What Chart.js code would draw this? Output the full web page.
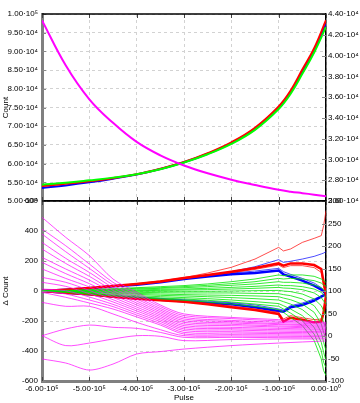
<!DOCTYPE html>
<html><head><meta charset="utf-8">
<script src="https://cdn.jsdelivr.net/npm/chart.js@4.4.0/dist/chart.umd.min.js"></script>
<style>
html,body{margin:0;padding:0;background:#fff;width:360px;height:403px;overflow:hidden}
#cTop{position:absolute;left:0;top:0}
#cBot{position:absolute;left:0;top:190px}
</style></head><body>
<canvas id="cTop" width="360" height="215"></canvas>
<canvas id="cBot" width="360" height="213"></canvas>
<script>
// ---------- tick values & labels ----------
const xTickVals = [-600000,-500000,-400000,-300000,-200000,-100000,0];
const xTickLabels = ['-6.00·10⁵','-5.00·10⁵','-4.00·10⁵','-3.00·10⁵','-2.00·10⁵','-1.00·10⁵','0.00·10⁰'];
const topLeftVals = [50000,55000,60000,65000,70000,75000,80000,85000,90000,95000,100000];
const topLeftLabels = ['5.00·10⁴','5.50·10⁴','6.00·10⁴','6.50·10⁴','7.00·10⁴','7.50·10⁴','8.00·10⁴','8.50·10⁴','9.00·10⁴','9.50·10⁴','1.00·10⁵'];
const topRightVals = [26000,28000,30000,32000,34000,36000,38000,40000,42000,44000];
const topRightLabels = ['2.60·10⁴','2.80·10⁴','3.00·10⁴','3.20·10⁴','3.40·10⁴','3.60·10⁴','3.80·10⁴','4.00·10⁴','4.20·10⁴','4.40·10⁴'];
const botLeftVals = [-600,-400,-200,0,200,400,600];
const botLeftLabels = ['-600','-400','-200','0','200','400','600'];
const botRightVals = [-100,-50,0,50,100,150,200,250,300];
const botRightLabels = ['-100','-50','0','50','100','150','200','250','300'];

// ---------- top panel data ----------
const xsTop = [-600000,-550000,-500000,-450000,-400000,-350000,-300000,-250000,-200000,-150000,-100000,-75000,-50000,-25000,0];
const topMagenta = [98300,86300,77200,70900,65800,62200,59500,57400,55700,54300,53000,52500,52100,51700,51250];
const topGreen = [27570,27750,27990,28250,28580,29050,29700,30500,31500,32850,34850,36300,38250,40300,42750];
const topRed   = [27440,27650,27900,28200,28570,29100,29750,30600,31650,33050,35100,36600,38650,40700,43400];
const topBlue  = [27250,27500,27800,28150,28550,29080,29730,30550,31580,32950,34980,36450,38450,40500,43050];

// ---------- bottom panel data ----------
const xsBot = [-600000,-550000,-500000,-450000,-400000,-350000,-300000,-250000,-200000,-150000,-100000,-90000,-75000,-50000,-25000,-10000,-5000,0];
const blueThickUp  = [0,9,18,31,42,58,80,96,111,120,136,111,96,69,36,9,-4,-20];
const blueThickLow = [0,-11,-22,-36,-49,-58,-69,-80,-89,-109,-133,-138,-109,-93,-64,-38,-29,-20];
const blueThinTop  = [0,9,18,31,44,60,80,102,129,162,209,191,198,213,231,247,253,262];
const blueThinUp   = [0,9,20,33,47,62,84,102,120,133,151,129,111,84,53,22,0,-20];
const blueThinLow  = [0,-9,-18,-29,-40,-49,-58,-67,-78,-93,-120,-127,-98,-80,-53,-33,-27,-20];
const redThickUp   = [0,9,20,33,47,64,87,107,129,153,184,169,184,184,173,147,58,-31];
const redThickLow  = [0,-11,-22,-38,-51,-62,-71,-89,-109,-127,-153,-204,-178,-191,-209,-204,-142,-31];
const redThinTop   = [0,9,20,33,49,67,89,120,158,213,291,267,280,324,351,369,436,536];
const redThinUp    = [0,7,18,31,44,60,82,102,122,144,173,156,169,169,156,124,40,-31];
const redThinLow   = [0,-9,-20,-33,-47,-58,-67,-82,-100,-120,-142,-187,-164,-178,-191,-187,-131,-31];

const green1  = [0,4,9,16,22,29,36,47,62,80,107,102,107,107,98,80,69,58];
const green2  = [0,2,7,11,18,22,29,38,49,62,84,80,84,80,69,53,40,31];
const green3  = [0,2,4,9,13,18,22,29,38,47,62,58,58,53,40,22,9,-4];
const green4  = [0,0,2,4,7,11,13,18,24,31,40,36,36,29,13,-9,-27,-44];
const green5  = [0,0,0,2,2,4,7,9,13,18,24,20,18,9,-13,-44,-67,-87];
const green6  = [0,0,-2,-2,-2,-2,-2,-2,0,2,4,0,-4,-20,-53,-98,-131,-164];
const green7  = [0,-2,-4,-7,-9,-11,-13,-13,-13,-16,-18,-24,-31,-53,-98,-164,-209,-253];
const green8  = [0,-2,-7,-11,-16,-20,-24,-27,-29,-33,-38,-47,-58,-87,-142,-220,-276,-320];
const green9  = [0,-4,-9,-16,-22,-29,-33,-38,-44,-51,-60,-71,-87,-124,-187,-276,-342,-398];
const green10 = [0,-4,-13,-22,-31,-38,-44,-51,-60,-71,-84,-98,-120,-164,-242,-342,-409,-464];
const green11 = [0,-7,-18,-29,-38,-47,-53,-62,-73,-87,-102,-120,-147,-198,-287,-398,-476,-509];
const green12 = [0,-9,-22,-33,-44,-53,-62,-73,-87,-102,-124,-142,-176,-231,-331,-453,-531,-564];

const xsMag = [-600000,-550000,-500000,-450000,-400000,-350000,-300000,-200000,-100000,0];
const mag1  = [491,358,236,80,-9,-93,-153,-176,-191,-209];
const mag2  = [413,302,180,58,-24,-104,-164,-184,-200,-216];
const mag3  = [380,262,151,40,-40,-116,-176,-196,-209,-222];
const mag4  = [324,218,124,22,-53,-127,-187,-204,-218,-229];
const mag5  = [280,184,98,4,-67,-138,-198,-213,-224,-236];
const mag6  = [224,147,73,-11,-80,-149,-209,-222,-233,-242];
const mag7  = [191,116,49,-27,-93,-160,-220,-231,-240,-249];
const mag8  = [147,84,27,-42,-107,-171,-231,-242,-249,-256];
const mag9  = [91,58,4,-58,-120,-182,-242,-251,-258,-262];
const mag10 = [58,31,-18,-73,-133,-193,-253,-260,-267,-271];
const mag11 = [13,2,-40,-89,-147,-204,-264,-271,-276,-278];
const mag12 = [0,-20,-60,-104,-160,-216,-276,-280,-284,-287];
const mag13 = [-9,-42,-80,-120,-173,-227,-287,-291,-293,-296];
const mag14 = [-76,-102,-102,-153,-209,-258,-298,-300,-302,-304];
const mag15 = [-298,-253,-227,-242,-249,-276,-309,-309,-311,-313];
const mag16 = [-298,-364,-347,-320,-298,-302,-331,-324,-320,-320];
const mag17 = [-453,-480,-527,-487,-420,-404,-387,-364,-347,-333];

// ---------- helpers ----------
Chart.defaults.font.family = "'Liberation Sans', Arial, sans-serif";
Chart.defaults.font.size = 8;
Chart.defaults.color = '#000';

function ds(xs, ys, color, width, axis, tension) {
  return {
    data: xs.map((x, i) => ({x: x, y: ys[i]})),
    borderColor: color, backgroundColor: color, borderWidth: width,
    pointRadius: 0, fill: false, yAxisID: axis,
    tension: tension || 0
  };
}
function setTicks(vals) { return s => { s.ticks = vals.map(v => ({value: v})); }; }
const GRID = {color: '#d2d2d2', lineWidth: 1, drawTicks: false};

const frame = {
  id: 'frame',
  afterDraw(chart, args, opts) {
    const {ctx, chartArea: a, scales} = chart;
    ctx.save();
    ctx.strokeStyle = '#444'; ctx.lineWidth = 1;
    const L = 4;
    const xs = scales.x;
    xs.ticks.forEach(t => {
      const px = Math.round(xs.getPixelForValue(t.value)) + 0.5;
      ctx.beginPath();
      ctx.moveTo(px, a.top); ctx.lineTo(px, a.top + L);
      ctx.moveTo(px, a.bottom); ctx.lineTo(px, a.bottom - L);
      ctx.stroke();
    });
    ctx.strokeStyle = '#888';
    Object.values(scales).forEach(s => {
      if (s.axis !== 'y') return;
      s.ticks.forEach(t => {
        const py = Math.round(s.getPixelForValue(t.value)) + 0.5;
        ctx.beginPath();
        if (s.position === 'left') { ctx.moveTo(a.left, py); ctx.lineTo(a.left + L, py); }
        else { ctx.moveTo(a.right, py); ctx.lineTo(a.right - L, py); }
        ctx.stroke();
      });
    });
    if (opts.topLine) {
      ctx.strokeStyle = '#000'; ctx.lineWidth = 1.5;
      ctx.beginPath(); ctx.moveTo(a.left, a.top); ctx.lineTo(a.right, a.top); ctx.stroke();
    }
    ctx.restore();
  }
};

// ---------- top chart ----------
new Chart(document.getElementById('cTop'), {
  type: 'line',
  data: {datasets: [
    ds(xsTop, topMagenta, '#ff00ff', 2, 'yL', 0.4),
    ds(xsTop, topGreen, '#00ff00', 2, 'yR', 0.4),
    ds(xsTop, topRed, '#ff0000', 2, 'yR', 0.4),
    ds(xsTop, topBlue, '#0000ff', 2, 'yR', 0.4)
  ]},
  options: {
    responsive: false, animation: false, events: [],
    layout: {padding: {top: 14, bottom: 14, left: 0, right: 0}},
    plugins: {legend: {display: false}, tooltip: {enabled: false}, frame: {topLine: true}},
    scales: {
      x: {type: 'linear', min: -600000, max: 0, afterBuildTicks: setTicks(xTickVals),
          ticks: {display: false}, grid: GRID,
          border: {display: true, color: '#000', width: 1.5, dash: [3, 3]},
          afterFit: s => { s.height = 0; }},
      yL: {position: 'left', min: 50000, max: 100000, afterBuildTicks: setTicks(topLeftVals),
           ticks: {padding: 4, callback: (v, i) => topLeftLabels[i]},
           grid: GRID, border: {display: true, color: '#808080', width: 3, dash: [3, 3]},
           title: {display: true, text: 'Count', padding: {top: 1, bottom: 0}},
           afterFit: s => { s.width = 42; }},
      yR: {position: 'right', min: 26000, max: 44000, afterBuildTicks: setTicks(topRightVals),
           ticks: {padding: 2, callback: (v, i) => topRightLabels[i]},
           grid: {drawOnChartArea: false, drawTicks: false},
           border: {display: true, color: '#000', width: 1.5},
           afterFit: s => { s.width = 34; }}
    }
  },
  plugins: [frame]
});

// ---------- bottom chart ----------
const magSets = [mag1,mag2,mag3,mag4,mag5,mag6,mag7,mag8,mag9,mag10,mag11,mag12,mag13,mag14,mag15,mag16,mag17]
  .map(a => ds(xsMag, a, 'rgba(255,0,255,0.7)', 1, 'yL2', 0.3));
const greenSets = [green1,green2,green3,green4,green5,green6,green7,green8,green9,green10,green11,green12]
  .map(a => ds(xsBot, a, 'rgba(0,230,0,0.8)', 1, 'yL2'));
const redSets = [
  ds(xsBot, redThinTop, 'rgba(255,0,0,0.7)', 1, 'yL2'),
  ds(xsBot, redThinUp, 'rgba(255,0,0,0.7)', 1, 'yL2'),
  ds(xsBot, redThinLow, 'rgba(255,0,0,0.7)', 1, 'yL2'),
  ds(xsBot, redThickUp, '#ff0000', 2.5, 'yL2'),
  ds(xsBot, redThickLow, '#ff0000', 2.5, 'yL2')
];
const blueSets = [
  ds(xsBot, blueThinTop, 'rgba(0,0,255,0.7)', 1, 'yL2'),
  ds(xsBot, blueThinUp, 'rgba(0,0,255,0.7)', 1, 'yL2'),
  ds(xsBot, blueThinLow, 'rgba(0,0,255,0.7)', 1, 'yL2'),
  ds(xsBot, blueThickUp, '#0000ff', 2.5, 'yL2'),
  ds(xsBot, blueThickLow, '#0000ff', 2.5, 'yL2')
];

new Chart(document.getElementById('cBot'), {
  type: 'line',
  data: {datasets: [...magSets, ...greenSets, ...redSets, ...blueSets]},
  options: {
    responsive: false, animation: false, events: [],
    layout: {padding: {top: 11, bottom: 0, left: 0, right: 0}},
    plugins: {legend: {display: false}, tooltip: {enabled: false}, frame: {topLine: true}},
    scales: {
      x: {type: 'linear', min: -600000, max: 0, afterBuildTicks: setTicks(xTickVals),
          ticks: {padding: 3, autoSkip: false, maxRotation: 0, callback: (v, i) => xTickLabels[i]},
          grid: GRID, border: {display: true, color: '#808080', width: 3, dash: [3, 3]},
          title: {display: true, text: 'Pulse', padding: {top: 0, bottom: 0}},
          afterFit: s => { s.height = 22; }},
      yL2: {position: 'left', min: -600, max: 600, afterBuildTicks: setTicks(botLeftVals),
           ticks: {padding: 4, callback: (v, i) => botLeftLabels[i]},
           grid: GRID, border: {display: true, color: '#808080', width: 3, dash: [3, 3]},
           title: {display: true, text: 'Δ Count', padding: {top: 1, bottom: 0}},
           afterFit: s => { s.width = 42; }},
      yR2: {position: 'right', min: -100, max: 300, afterBuildTicks: setTicks(botRightVals),
           ticks: {padding: 2, callback: (v, i) => botRightLabels[i]},
           grid: {drawOnChartArea: false, drawTicks: false},
           border: {display: true, color: '#000', width: 1.5},
           afterFit: s => { s.width = 34; }}
    }
  },
  plugins: [frame]
});
</script>
</body></html>
